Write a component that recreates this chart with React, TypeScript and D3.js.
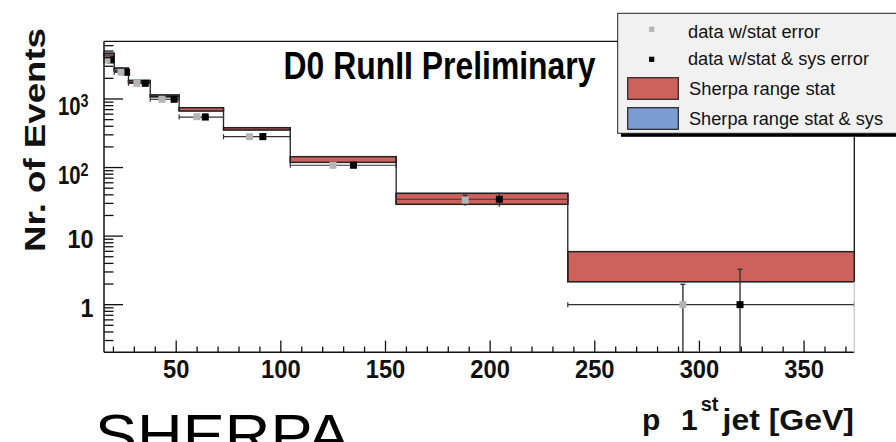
import React from 'react';
import * as d3 from 'd3';

// ---------- data ----------
const binEdges = [15.5, 20.4, 27.2, 37.6, 51.4, 72.6, 104.5, 155.1, 237.1, 374];
const sherpaStatLo = [4200, 2560, 1730, 1080, 668, 353, 119, 29.1, 2.16];
const sherpaStatHi = [4600, 2800, 1850, 1143, 746, 381, 144, 42.1, 5.93];
const sherpaSysLo = [4080, 2500, 1690, 1065, 668, 353, 119, 29.1, 2.16];
const sherpaSysHi = [4720, 2860, 1890, 1150, 746, 381, 144, 42.1, 5.93];

const statX = [16.9, 23.6, 31.2, 43.2, 59.9, 85.0, 124.9, 188.1, 292.1];
const statY = [3700, 2450, 1690, 990, 552, 282, 108, 33.5, 1];
const statErrLo = [3640, 2400, 1650, 959, 529, 265, 98, 27.7, 0];
const statErrHi = [3760, 2500, 1730, 1021, 575, 299, 118, 39.3, 1.98];

const sysX = [18.8, 26.3, 35.2, 49.0, 63.9, 91.4, 134.7, 204.4, 319.4];
const sysY = [3700, 2450, 1690, 990, 545, 282, 108, 34.5, 1];
const sysErrLo = [3400, 2250, 1550, 900, 500, 255, 97, 27, 0];
const sysErrHi = [4000, 2650, 1830, 1080, 600, 310, 120, 42, 3.28];

const xTickLabels = [50, 100, 150, 200, 250, 300, 350];
const yTickValues = [1, 10, 100, 1000];
const yTickLabels = [
  { base: '1', exp: '' },
  { base: '10', exp: '' },
  { base: '10', exp: '2' },
  { base: '10', exp: '3' },
];
const legendLabels = [
  'data w/stat error',
  'data w/stat & sys error',
  'Sherpa range stat',
  'Sherpa range stat & sys',
];

// ---------- layout ----------
const W = 896;
const H = 442;
const L = 104, R = 854.3, T = 41.3, B = 352.3;
const RED = '#cd625d';
const BLUE = '#7b9dd3';
const GREY = '#b5b5b5';
const FONT = "'Liberation Sans', Arial, Helvetica, sans-serif";

export default function App() {
  const x = d3.scaleLinear().domain([15.5, 374]).range([L, R]);
  const y = d3.scaleLog().domain([0.202, 6940]).range([B, T]);
  const yc = (v: number) => (v <= 0.202 ? B : Math.max(T, y(v)));

  const nb = binEdges.length - 1;
  const bins = d3.range(nb);

  const yMinor = y.ticks().filter((v) => v >= 0.202 && v <= 6940);
  const xMinor = d3.range(20, 374, 10);

  const connectors = d3.range(nb - 1).map((i) => {
    const ys = [
      y(sherpaStatHi[i]),
      y(sherpaStatLo[i]),
      y(sherpaStatHi[i + 1]),
      y(sherpaStatLo[i + 1]),
    ];
    return { xe: x(binEdges[i + 1]), y1: d3.min(ys)!, y2: d3.max(ys)! };
  });

  const ms = 7;

  return (
    <svg
      width={W}
      height={H}
      style={{ position: 'absolute', left: 0, top: 0, background: '#fff' }}
      fontFamily={FONT}
    >
      <rect x={0} y={0} width={W} height={H} fill="#fff" />

      {/* Sherpa bands */}
      {bins.map((i) => (
        <rect
          key={'sys' + i}
          x={x(binEdges[i])}
          y={y(sherpaSysHi[i])}
          width={x(binEdges[i + 1]) - x(binEdges[i])}
          height={y(sherpaSysLo[i]) - y(sherpaSysHi[i])}
          fill={BLUE}
          stroke="#3a5a8a"
          strokeWidth={1}
        />
      ))}
      {bins.map((i) => (
        <rect
          key={'stat' + i}
          x={x(binEdges[i])}
          y={y(sherpaStatHi[i])}
          width={x(binEdges[i + 1]) - x(binEdges[i])}
          height={y(sherpaStatLo[i]) - y(sherpaStatHi[i])}
          fill={RED}
          stroke="#222"
          strokeWidth={1.5}
        />
      ))}
      {connectors.map((c, i) => (
        <line key={'c' + i} x1={c.xe} x2={c.xe} y1={c.y1} y2={c.y2} stroke="#222" strokeWidth={1.3} />
      ))}

      {/* data x-error bars (bin width) */}
      {bins.map((i) => {
        const yy = y(sysY[i]);
        const x1 = x(binEdges[i]);
        const x2 = x(binEdges[i + 1]);
        return (
          <g key={'xe' + i} stroke="#333" strokeWidth={1.2}>
            <line x1={x1} x2={x2} y1={yy} y2={yy} />
            <line x1={x1} x2={x1} y1={yy - 2.5} y2={yy + 2.5} />
            <line x1={x2} x2={x2} y1={yy - 2.5} y2={yy + 2.5} />
          </g>
        );
      })}

      {/* data y-error bars */}
      {bins.map((i) => (
        <g key={'ye' + i} stroke="#333" strokeWidth={1.4}>
          <line x1={x(sysX[i])} x2={x(sysX[i])} y1={yc(sysErrHi[i])} y2={yc(sysErrLo[i])} />
          <line x1={x(sysX[i]) - 2.5} x2={x(sysX[i]) + 2.5} y1={yc(sysErrHi[i])} y2={yc(sysErrHi[i])} />
          <line x1={x(statX[i])} x2={x(statX[i])} y1={yc(statErrHi[i])} y2={yc(statErrLo[i])} />
          <line x1={x(statX[i]) - 2.5} x2={x(statX[i]) + 2.5} y1={yc(statErrHi[i])} y2={yc(statErrHi[i])} />
        </g>
      ))}

      {/* markers */}
      {bins.map((i) => (
        <rect key={'mk' + i} x={x(sysX[i]) - ms / 2} y={y(sysY[i]) - ms / 2} width={ms} height={ms} fill="#000" />
      ))}
      {bins.map((i) => (
        <rect key={'mg' + i} x={x(statX[i]) - ms / 2} y={y(statY[i]) - ms / 2} width={ms} height={ms} fill={GREY} />
      ))}

      {/* frame */}
      <line x1={L} x2={R} y1={T} y2={T} stroke="#111" strokeWidth={1.3} />
      <line x1={L} x2={L} y1={T} y2={B} stroke="#111" strokeWidth={1.5} />
      <line x1={L} x2={R} y1={B} y2={B} stroke="#111" strokeWidth={1.5} />
      <line x1={R} x2={R} y1={T} y2={y(sherpaStatHi[nb - 1])} stroke="#111" strokeWidth={1.3} />
      <line x1={R} x2={R} y1={y(sherpaStatLo[nb - 1])} y2={B} stroke="#c9c9df" strokeWidth={1.3} />

      {/* y ticks */}
      {yMinor.map((v, i) => {
        const major = yTickValues.includes(v);
        return (
          <line key={'yt' + i} x1={L} x2={L + (major ? 19 : 9.5)} y1={y(v)} y2={y(v)} stroke="#111" strokeWidth={1.3} />
        );
      })}
      {/* x ticks */}
      {xMinor.map((v, i) => {
        const major = v % 50 === 0;
        return (
          <line key={'xt' + i} x1={x(v)} x2={x(v)} y1={B} y2={B - (major ? 11.7 : 5.8)} stroke="#111" strokeWidth={1.3} />
        );
      })}

      {/* x tick labels */}
      {xTickLabels.map((v) => {
        const s = String(v);
        return (
          <text
            key={'xl' + v}
            x={x(v)}
            y={378.3}
            textAnchor="middle"
            fontSize={25.5}
            fontWeight="bold"
            textLength={s.length * 13.2}
            lengthAdjust="spacingAndGlyphs"
            fill="#111"
          >
            {s}
          </text>
        );
      })}

      {/* y tick labels */}
      {yTickValues.map((v, i) => {
        const lab = yTickLabels[i];
        const ty = y(v);
        if (lab.exp) {
          return (
            <text
              key={'yl' + v}
              x={58}
              y={ty + 16}
              fontSize={25.5}
              fontWeight="bold"
              fill="#111"
              textLength={30.5}
              lengthAdjust="spacingAndGlyphs"
            >
              {lab.base}
              <tspan dy={-8} fontSize={18}>{lab.exp}</tspan>
            </text>
          );
        }
        return (
          <text
            key={'yl' + v}
            x={93.5}
            y={ty + 12}
            textAnchor="end"
            fontSize={25.5}
            fontWeight="bold"
            textLength={lab.base.length * 13}
            lengthAdjust="spacingAndGlyphs"
            fill="#111"
          >
            {lab.base}
          </text>
        );
      })}

      {/* y axis title */}
      <text
        transform="translate(44.5,252) rotate(-90)"
        fontSize={29}
        fontWeight="bold"
        textLength={224}
        lengthAdjust="spacingAndGlyphs"
        fill="#111"
      >
        Nr. of Events
      </text>

      {/* x axis title */}
      <g fill="#111" fontWeight="bold">
        <text x={642} y={430} fontSize={30}>p</text>
        <text x={681} y={430} fontSize={30}>
          1
          <tspan dx={3} dy={-19} fontSize={20}>st</tspan>
        </text>
        <text x={722.5} y={430} fontSize={30} textLength={131.5} lengthAdjust="spacingAndGlyphs">jet [GeV]</text>
      </g>

      {/* plot title */}
      <text
        x={283.5}
        y={78.5}
        fontSize={38.5}
        fontWeight="bold"
        textLength={312}
        lengthAdjust="spacingAndGlyphs"
        fill="#000"
      >
        D0 RunII Preliminary
      </text>

      {/* SHERPA */}
      <text x={95} y={455} fontSize={58} textLength={255} lengthAdjust="spacingAndGlyphs" fill="#000">
        SHERPA
      </text>

      {/* legend */}
      <rect x={621} y={16.5} width={290} height={120.3} fill="#000" />
      <rect x={617.7} y={13.3} width={290} height={120} fill="#f1f1f1" stroke="#222" strokeWidth={1} />
      <rect x={651.7 - 2.6} y={29.3 - 2.6} width={5.2} height={5.2} fill={GREY} />
      <rect x={651.7 - 2.6} y={59.3 - 2.6} width={5.2} height={5.2} fill="#000" />
      <rect x={627.7} y={77.7} width={50.6} height={21.6} fill={RED} stroke="#222" strokeWidth={1.2} />
      <rect x={627.7} y={107.7} width={50.6} height={21.6} fill={BLUE} stroke="#222" strokeWidth={1.2} />
      <g fill="#111" fontSize={17.5}>
        <text x={688} y={38} textLength={132} lengthAdjust="spacingAndGlyphs">{legendLabels[0]}</text>
        <text x={688} y={64.5} textLength={181} lengthAdjust="spacingAndGlyphs">{legendLabels[1]}</text>
        <text x={689} y={95} textLength={146} lengthAdjust="spacingAndGlyphs">{legendLabels[2]}</text>
        <text x={689} y={124.5} textLength={194} lengthAdjust="spacingAndGlyphs">{legendLabels[3]}</text>
      </g>
    </svg>
  );
}
